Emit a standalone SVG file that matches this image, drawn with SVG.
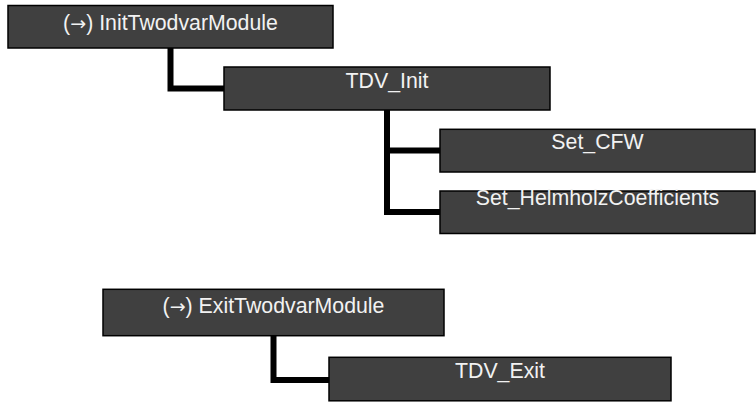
<svg xmlns="http://www.w3.org/2000/svg" width="756" height="402" viewBox="0 0 756 402">
<style>
.box{fill:#404040;stroke:#000;stroke-width:1.5}
.lbl{font-family:"Liberation Sans",Arial,sans-serif;font-size:21.3px;fill:#f2f2f2;text-anchor:middle}
.arr{font-family:"DejaVu Sans",sans-serif;font-size:19px}
.con{fill:none;stroke:#000;stroke-width:6;stroke-linejoin:miter}
</style>
<rect width="756" height="402" fill="#fff"/>
<g id="connectors">
<path class="con" d="M170.5,48 V88.5 H224"/>
<path class="con" d="M387,110 V212 H440"/>
<path class="con" d="M387,150.5 H440"/>
<path class="con" d="M273.5,336 V380 H329"/>
</g>
<g id="InitTwodvarModule">
<rect class="box" x="8" y="5.5" width="325" height="42.5"/>
<text class="lbl" x="170.5" y="29.5">(<tspan class="arr">→</tspan>) InitTwodvarModule</text>
</g>
<g id="TDV_Init">
<rect class="box" x="224" y="67" width="326" height="43"/>
<text class="lbl" x="387" y="88.3">TDV_Init</text>
</g>
<g id="Set_CFW">
<rect class="box" x="440" y="129.3" width="315" height="42.7"/>
<text class="lbl" x="597.5" y="149.3">Set_CFW</text>
</g>
<g id="Set_HelmholzCoefficients">
<rect class="box" x="440" y="191" width="315" height="42.5"/>
<text class="lbl" x="597.5" y="204.5">Set_HelmholzCoefficients</text>
</g>
<g id="ExitTwodvarModule">
<rect class="box" x="103" y="289.3" width="341" height="46.4"/>
<text class="lbl" x="273.5" y="313">(<tspan class="arr">→</tspan>) ExitTwodvarModule</text>
</g>
<g id="TDV_Exit">
<rect class="box" x="329" y="357.3" width="342" height="43.5"/>
<text class="lbl" x="500" y="378">TDV_Exit</text>
</g>
</svg>
